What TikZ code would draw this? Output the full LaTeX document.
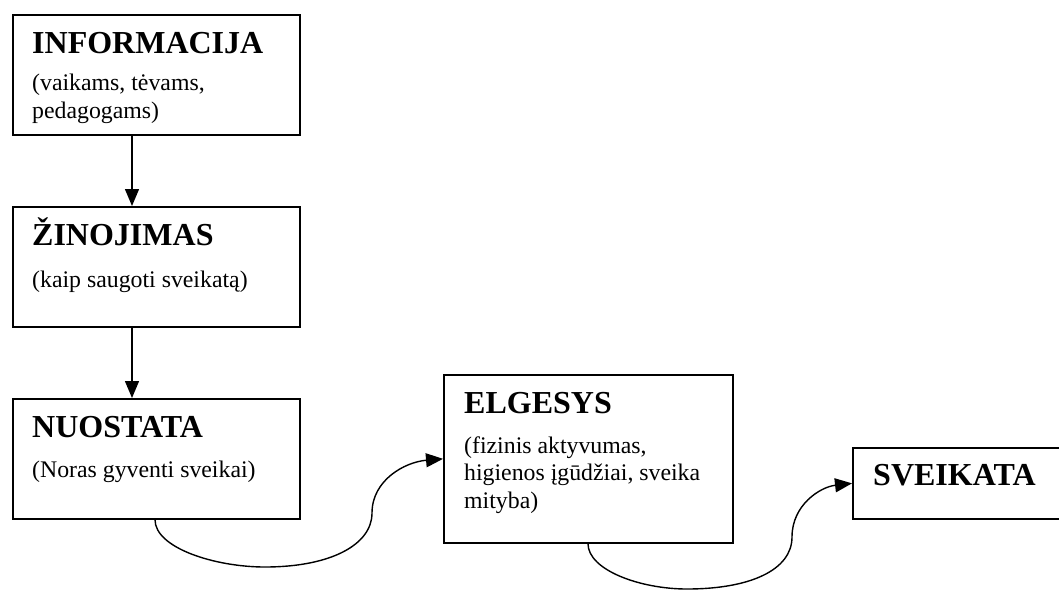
\documentclass[tikz,border=0pt]{standalone}
\usepackage{fontspec}
\setmainfont{Liberation Serif}
\usepackage{tikz}
\usetikzlibrary{arrows.meta}
\usetikzlibrary{calc}

\tikzset{
	stagebox/.style={draw, line width=1.7pt, anchor=north west, inner sep=0pt},
	heading/.style={anchor=base west, inner sep=0pt, font=\fontsize{32}{36}\selectfont\bfseries},
	note/.style={anchor=base west, inner sep=0pt, align=left, font=\fontsize{23.8}{27.5}\selectfont},
	flow/.style={line width=1.4pt, -{Triangle[length=17pt,width=14pt]}},
}

\begin{document}
\begin{tikzpicture}[x=1pt,y=-1pt]
		
		% Page frame
		\useasboundingbox (0,0) rectangle (1059,589);
		
		% The boxes
		\node[stagebox, minimum width=287pt, minimum height=120pt] (info) at (12,14) {};
		\node[stagebox, minimum width=287pt, minimum height=120pt] (know) at (12,206) {};
		\node[stagebox, minimum width=287pt, minimum height=120pt] (attitude) at (12,398) {};
		\node[stagebox, minimum width=289pt, minimum height=168pt] (behave) at (443,374) {};
		\node[stagebox, minimum width=212pt, minimum height=71pt] (health) at (852,447) {};
		
		% Headings
		\node[heading] (infohead) at (32,53) {INFORMACIJA};
		\node[heading] (knowhead) at (32,245) {ŽINOJIMAS};
		\node[heading] (attitudehead) at (32,437) {NUOSTATA};
		\node[heading] (behavehead) at (464,413) {ELGESYS};
		\node[heading] (healthhead) at (873,485) {SVEIKATA};
		
		% Explanations in brackets (placed at the last line's baseline)
		\node[note] (infonote) at (32,118) {(vaikams, tėvams,\\pedagogams)};
		\node[note] (knownote) at (32,287) {(kaip saugoti sveikatą)};
		\node[note] (attitudenote) at (32,477) {(Noras gyventi sveikai)};
		\node[note] (behavenote) at (464,508) {(fizinis aktyvumas,\\higienos įgūdžiai, sveika\\mityba)};
		
		% Straight arrows down the left column
		\draw[flow] ([xshift=120pt]info.south west) -- ([xshift=120pt]know.north west);
		\draw[flow] ([xshift=120pt]know.south west) -- ([xshift=120pt]attitude.north west);
		
		% Curved arrows to the right
		\draw[flow] ([xshift=143pt]attitude.south west)
		.. controls (155,548) and (215,567) .. (265,567)
		.. controls (330,567) and (372,545) .. (372,513)
		.. controls (372,480) and (405,462) .. (behave.west);
		
		\draw[flow] ([xshift=145pt]behave.south west)
		.. controls (588,570) and (640,589) .. (687,589)
		.. controls (750,589) and (792,570) .. (792,537)
		.. controls (792,505) and (820,487) .. (health.west);
		
	\end{tikzpicture}
\end{document}
